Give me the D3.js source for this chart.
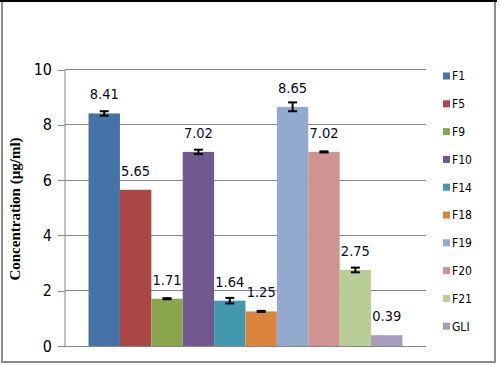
<!DOCTYPE html>
<html>
<head>
<meta charset="utf-8">
<script src="https://cdn.jsdelivr.net/npm/d3@7"></script>
<style>
html,body{margin:0;padding:0;background:#fff;}
svg{display:block;}
</style>
</head>
<body>
<svg id="chart" width="500" height="365"></svg>
<script>
const series = ["F1","F5","F9","F10","F14","F18","F19","F20","F21","GLI"];
const values = [8.41,5.65,1.71,7.02,1.64,1.25,8.65,7.02,2.75,0.39];
const errors = [0.08,0,0.02,0.08,0.1,0.02,0.16,0.02,0.085,0];
const colors = ["#4572A7","#AA4643","#89A54E","#71588F","#4198AF","#DB843D","#93A9CF","#D19392","#B9CD96","#A99BBD"];
const yTicks = [0,2,4,6,8,10];
const yTitle = "Concentration (µg/ml)";

const svg = d3.select("#chart");
const labelFont = '"DejaVu Sans Condensed","DejaVu Sans",sans-serif';

// chart border
svg.append("rect").attr("x",2).attr("y",1).attr("width",493).attr("height",361)
  .attr("fill","none").attr("stroke","#8c8c8c").attr("stroke-width",2);
svg.append("line").attr("x1",0).attr("x2",497).attr("y1",1).attr("y2",1)
  .attr("stroke","#000").attr("stroke-width",2);

const x = d3.scaleBand().domain(series).range([65,426]).paddingInner(0).paddingOuter(0.75);
const y = d3.scaleLinear().domain([0,10]).range([346,69.5]);

// gridlines
svg.append("g").selectAll("line").data(yTicks.filter(d=>d>0)).join("line")
  .attr("x1",65).attr("x2",426).attr("y1",d=>y(d)).attr("y2",d=>y(d))
  .attr("stroke","#868686").attr("stroke-width",1).attr("shape-rendering","crispEdges");

// y axis
const yAxis = d3.axisLeft(y).tickValues(yTicks).tickSize(7).tickPadding(6).tickFormat(d3.format("d"));
const gy = svg.append("g").attr("transform","translate(65,0)").call(yAxis);
gy.select(".domain").attr("stroke","#868686").attr("d","M0,"+y(10)+"V"+y(0));
gy.selectAll(".tick line").attr("stroke","#868686").attr("shape-rendering","crispEdges");
gy.selectAll(".tick text").attr("font-family",labelFont).attr("font-size","16px").attr("fill","#000");

// bars
svg.append("g").selectAll("rect").data(series).join("rect")
  .attr("x",d=>x(d)).attr("width",x.bandwidth())
  .attr("y",(d,i)=>y(values[i])).attr("height",(d,i)=>y(0)-y(values[i]))
  .attr("fill",(d,i)=>colors[i]);

// x axis baseline
svg.append("line").attr("x1",65).attr("x2",426).attr("y1",y(0)).attr("y2",y(0))
  .attr("stroke","#868686").attr("stroke-width",1).attr("shape-rendering","crispEdges");

// error bars
const eg = svg.append("g").attr("stroke","#000").attr("stroke-width",2);
series.forEach((s,i)=>{
  if(!errors[i]) return;
  const cx = x(s)+x.bandwidth()/2;
  const t = y(values[i]+errors[i]), b = y(values[i]-errors[i]);
  eg.append("line").attr("x1",cx).attr("x2",cx).attr("y1",t).attr("y2",b);
  eg.append("line").attr("x1",cx-4.5).attr("x2",cx+4.5).attr("y1",t).attr("y2",t);
  eg.append("line").attr("x1",cx-4.5).attr("x2",cx+4.5).attr("y1",b).attr("y2",b);
});

// value labels
svg.append("g").selectAll("text").data(series).join("text")
  .attr("x",d=>x(d)+x.bandwidth()/2)
  .attr("y",(d,i)=>y(values[i])-14)
  .attr("text-anchor","middle")
  .attr("font-family",labelFont).attr("font-size","14.5px").attr("fill","#0a0a1e")
  .text((d,i)=>values[i].toFixed(2));

// y title
svg.append("text").attr("transform","translate(20,209) rotate(-90)")
  .attr("text-anchor","middle").attr("font-family",'"Liberation Serif","Times New Roman",serif')
  .attr("font-weight","bold").attr("font-size","15px").attr("fill","#000").text(yTitle);

// legend
const lg = svg.append("g").selectAll("g").data(series).join("g")
  .attr("transform",(d,i)=>"translate(443,"+(76+27.8*i)+")");
lg.append("rect").attr("x",0).attr("y",-3.5).attr("width",7).attr("height",7).attr("fill",(d,i)=>colors[i]);
lg.append("text").attr("x",9).attr("y",0).attr("dy","0.36em")
  .attr("font-family",labelFont).attr("font-size","12px").attr("fill","#000").text(d=>d);
</script>
</body>
</html>
